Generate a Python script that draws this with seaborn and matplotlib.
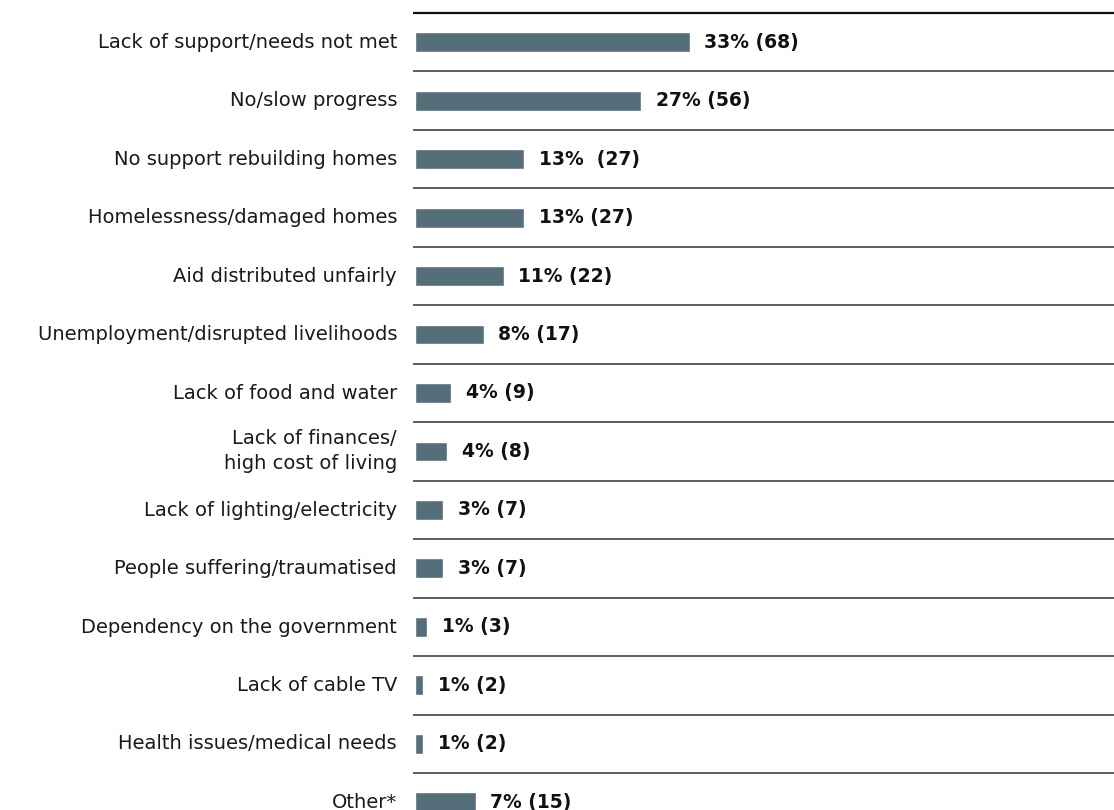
import matplotlib
matplotlib.use("Agg")
import matplotlib.pyplot as plt
import seaborn as sns
import pandas as pd

categories = [
    "Lack of support/needs not met",
    "No/slow progress",
    "No support rebuilding homes",
    "Homelessness/damaged homes",
    "Aid distributed unfairly",
    "Unemployment/disrupted livelihoods",
    "Lack of food and water",
    "Lack of finances/\nhigh cost of living",
    "Lack of lighting/electricity",
    "People suffering/traumatised",
    "Dependency on the government",
    "Lack of cable TV",
    "Health issues/medical needs",
    "Other*",
]
counts = [68, 56, 27, 27, 22, 17, 9, 8, 7, 7, 3, 2, 2, 15]
value_labels = [
    "33% (68)", "27% (56)", "13%  (27)", "13% (27)", "11% (22)", "8% (17)",
    "4% (9)", "4% (8)", "3% (7)", "3% (7)", "1% (3)", "1% (2)", "1% (2)", "7% (15)",
]

df = pd.DataFrame({"category": categories, "count": counts})

sns.set_theme(style="white")
plt.rcParams["font.family"] = ["DejaVu Sans"]

W, H = 1114, 810
fig = plt.figure(figsize=(W / 100, H / 100), dpi=100)
top_px = 13
pitch = 58.46
n = len(categories)
bottom_px = top_px + pitch * n
ax_w_px = 699
ax = fig.add_axes([415 / W, (H - bottom_px) / H, ax_w_px / W, (bottom_px - top_px) / H])

sns.barplot(data=df, y="category", x="count", orient="h", color="#546e7a",
            width=0.34, ax=ax, saturation=1)

xmax = ax_w_px / 4.04
ax.set_xlim(0, xmax)
ax.set_ylim(n - 0.5, -0.5)

for i in range(n):
    lw = 1.6 if i == 0 else 1.1
    col = "#111111" if i == 0 else "#333333"
    ax.hlines(i - 0.5, -0.6, xmax, color=col, lw=lw, clip_on=False, zorder=3)

for i, (v, lab) in enumerate(zip(counts, value_labels)):
    ax.text(v + 3.6, i, lab, va="center", ha="left", fontsize=13.5,
            fontweight="bold", color="#111111")

# category labels drawn as text to the left of the axes
for i, cat in enumerate(categories):
    multi = "\n" in cat
    ax.text(-18 / ax_w_px, i - (0.0 if multi else 0.03), cat,
            transform=ax.get_yaxis_transform(),
            ha="right", va="center" if multi else "center_baseline",
            fontsize=14, color="#1a1a1a", linespacing=1.4, clip_on=False)

ax.set_xlabel("")
ax.set_ylabel("")
ax.set_xticks([])
ax.set_yticklabels([])
ax.tick_params(axis="y", length=0)
for s in ax.spines.values():
    s.set_visible(False)

fig.savefig("out.png", dpi=100)
